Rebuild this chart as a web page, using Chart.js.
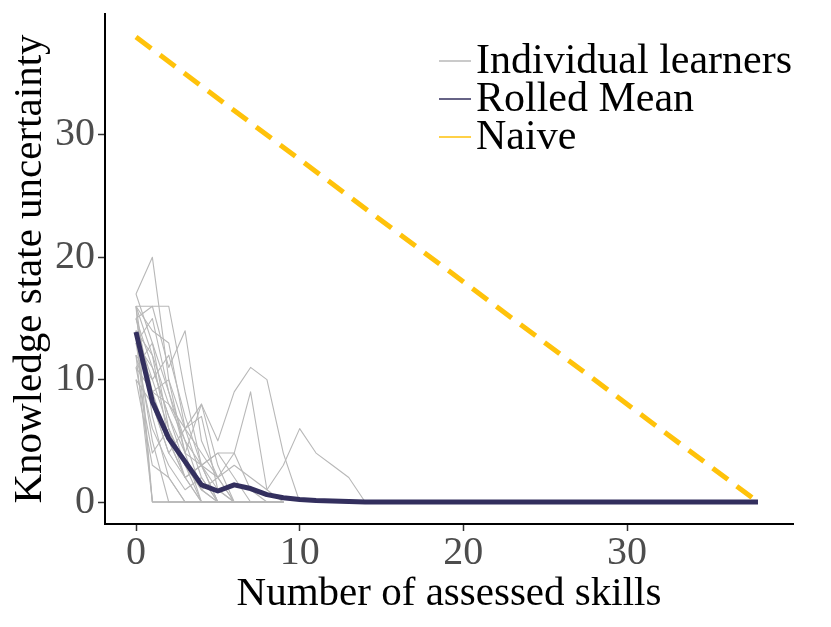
<!DOCTYPE html>
<html>
<head>
<meta charset="utf-8">
<script src="https://cdn.jsdelivr.net/npm/chart.js@4.4.1/dist/chart.umd.min.js"></script>
<style>
html, body { margin: 0; padding: 0; background: #fff; }
</style>
</head>
<body>
<canvas id="chart" width="831" height="627"></canvas>
<script>
// values
const xTicks = [0, 10, 20, 30];
const yTicks = [0, 10, 20, 30];
const skills = [0, 1, 2, 3, 4, 5, 6, 7, 8, 9, 10, 11, 12, 13, 14, 15, 16, 17, 18, 19,
    20, 21, 22, 23, 24, 25, 26, 27, 28, 29, 30, 31, 32, 33, 34, 35, 36, 37, 38];
const rolledMean = [13.9, 8.2, 5.2, 3.3, 1.4, 0.9, 1.4, 1.1, 0.6, 0.35, 0.2, 0.12, 0.08, 0.04, 0,
    0, 0, 0, 0, 0, 0, 0, 0, 0, 0, 0, 0, 0, 0, 0, 0, 0, 0, 0, 0, 0, 0, 0, 0];
const naiveSkills = [0, 38];
const naiveValues = [38, 0];
// one list per learner, starting at 0 assessed skills
const learners = [
    [17, 20, 10, 4, 0, 0, 0, 0, 0, 0],
    [16, 16, 16, 9, 3, 0, 0, 0, 0, 0],
    [16, 14, 13, 6, 2, 0, 0, 0, 0, 0],
    [15, 16, 11, 14, 5, 2, 0, 0, 0, 0],
    [14, 12, 8, 5, 1, 0, 0, 0, 0, 0],
    [13, 9, 10, 6, 4, 2, 0, 0, 0, 0],
    [12, 0, 0, 0, 0, 0, 0, 0, 0, 0],
    [11, 4, 6, 3, 0, 0, 0, 0, 0, 0],
    [10, 8, 4, 2, 0, 0, 0, 0, 0, 0],
    [16, 0, 0, 0, 0, 0, 0, 0, 0, 0],
    [15, 11, 7, 3, 1, 0, 0, 0, 0, 0],
    [13, 15, 9, 4, 8, 3, 0, 0, 0, 0],
    [14, 10, 12, 7, 3, 4, 2, 0, 0, 0],
    [12, 6, 3, 1, 2, 0, 0, 0, 0, 0],
    [11, 13, 6, 2, 0, 0, 0, 0, 0, 0],
    [16, 12, 5, 2, 3, 4, 4, 1, 0, 0],
    [10, 3, 2, 0, 0, 0, 0, 0, 0, 0],
    [15, 9, 8, 6, 8, 5, 9, 11, 10, 4, 0],
    [13, 11, 7, 4, 3, 2, 4, 9, 1, 0],
    [14, 8, 4, 6, 7, 1, 0, 0, 0, 0],
    [12, 10, 6, 3, 1, 2, 3, 2, 1, 3, 6, 4, 3, 2, 0],
    [17, 13, 9, 5, 3, 0, 0, 0, 0, 0],
    [16, 7, 2, 0, 0, 0, 0, 0, 0, 0],
    [11, 9, 5, 2, 3, 1, 0, 0, 0, 0],
    [14, 0, 0, 0, 0, 0, 0, 0, 0, 0],
    [13, 5, 0, 0, 0, 0, 0, 0, 0, 0]
];

const grey = '#b8b8b8';
const navy = '#332f5e';
const gold = '#ffc20a';
const serif = '"Liberation Serif", "DejaVu Serif", serif';

function toPoints(xs, ys) {
    return ys.map((y, i) => ({x: xs[i], y: y}));
}

const datasets = [
    {
        label: 'Naive',
        data: toPoints(naiveSkills, naiveValues),
        borderColor: gold,
        borderWidth: 5,
        borderDash: [19, 11]
    },
    {
        label: 'Rolled Mean',
        data: toPoints(skills, rolledMean),
        borderColor: navy,
        borderWidth: 5
    }
];
learners.forEach(function(vals) {
    datasets.push({
        label: 'Individual learners',
        data: toPoints(skills, vals),
        borderColor: grey,
        borderWidth: 1.1
    });
});

// legend drawn inside the plot, top right
const legendEntries = [
    {text: 'Individual learners', color: grey},
    {text: 'Rolled Mean', color: navy},
    {text: 'Naive', color: gold}
];
const insideLegend = {
    id: 'insideLegend',
    afterDraw(chart) {
        const ctx = chart.ctx;
        const x0 = chart.chartArea.right - 354;
        ctx.save();
        ctx.font = '42px ' + serif;
        ctx.textBaseline = 'middle';
        ctx.textAlign = 'left';
        legendEntries.forEach(function(e, i) {
            const y = 61 + i * 38;
            ctx.strokeStyle = e.color;
            ctx.lineWidth = 1.5;
            ctx.beginPath();
            ctx.moveTo(x0, y);
            ctx.lineTo(x0 + 32, y);
            ctx.stroke();
            ctx.fillStyle = '#000';
            ctx.fillText(e.text, x0 + 37, y + 1);
        });
        ctx.restore();
    }
};

function noEdgePadding(scale) {
    scale.paddingTop = 0;
    scale.paddingBottom = 0;
    scale.paddingLeft = 0;
    scale.paddingRight = 0;
}

new Chart(document.getElementById('chart'), {
    type: 'line',
    data: {datasets: datasets},
    plugins: [insideLegend],
    options: {
        responsive: false,
        animation: false,
        devicePixelRatio: 1,
        layout: {padding: {top: 14, right: 38, left: 0, bottom: 0}},
        elements: {
            point: {radius: 0},
            line: {tension: 0, borderCapStyle: 'butt', borderJoinStyle: 'round'}
        },
        plugins: {
            legend: {display: false},
            tooltip: {enabled: false}
        },
        scales: {
            x: {
                type: 'linear',
                min: -1.894,
                max: 40.14,
                afterBuildTicks: function(scale) {
                    scale.ticks = xTicks.map(v => ({value: v}));
                },
                afterFit: function(scale) { scale.height = 103; noEdgePadding(scale); },
                grid: {drawOnChartArea: false, color: '#333', tickLength: 7, tickWidth: 1.5},
                border: {display: true, color: '#000', width: 2},
                ticks: {
                    color: '#4d4d4d',
                    padding: 2,
                    maxRotation: 0,
                    font: {family: serif, size: 40, lineHeight: 1}
                },
                title: {
                    display: true,
                    text: 'Number of assessed skills',
                    color: '#000',
                    padding: {top: 0, bottom: 12},
                    font: {family: serif, size: 41, lineHeight: 1}
                }
            },
            y: {
                type: 'linear',
                min: -1.798,
                max: 39.89,
                afterBuildTicks: function(scale) {
                    scale.ticks = yTicks.map(v => ({value: v}));
                },
                afterFit: function(scale) { scale.width = 105; noEdgePadding(scale); },
                grid: {drawOnChartArea: false, color: '#333', tickLength: 7, tickWidth: 1.5},
                border: {display: true, color: '#000', width: 2},
                ticks: {
                    color: '#4d4d4d',
                    padding: 3,
                    font: {family: serif, size: 40, lineHeight: 1}
                },
                title: {
                    display: true,
                    text: 'Knowledge state uncertainty',
                    color: '#000',
                    padding: {top: 10, bottom: 0},
                    font: {family: serif, size: 41, lineHeight: 1}
                }
            }
        }
    }
});
</script>
</body>
</html>
